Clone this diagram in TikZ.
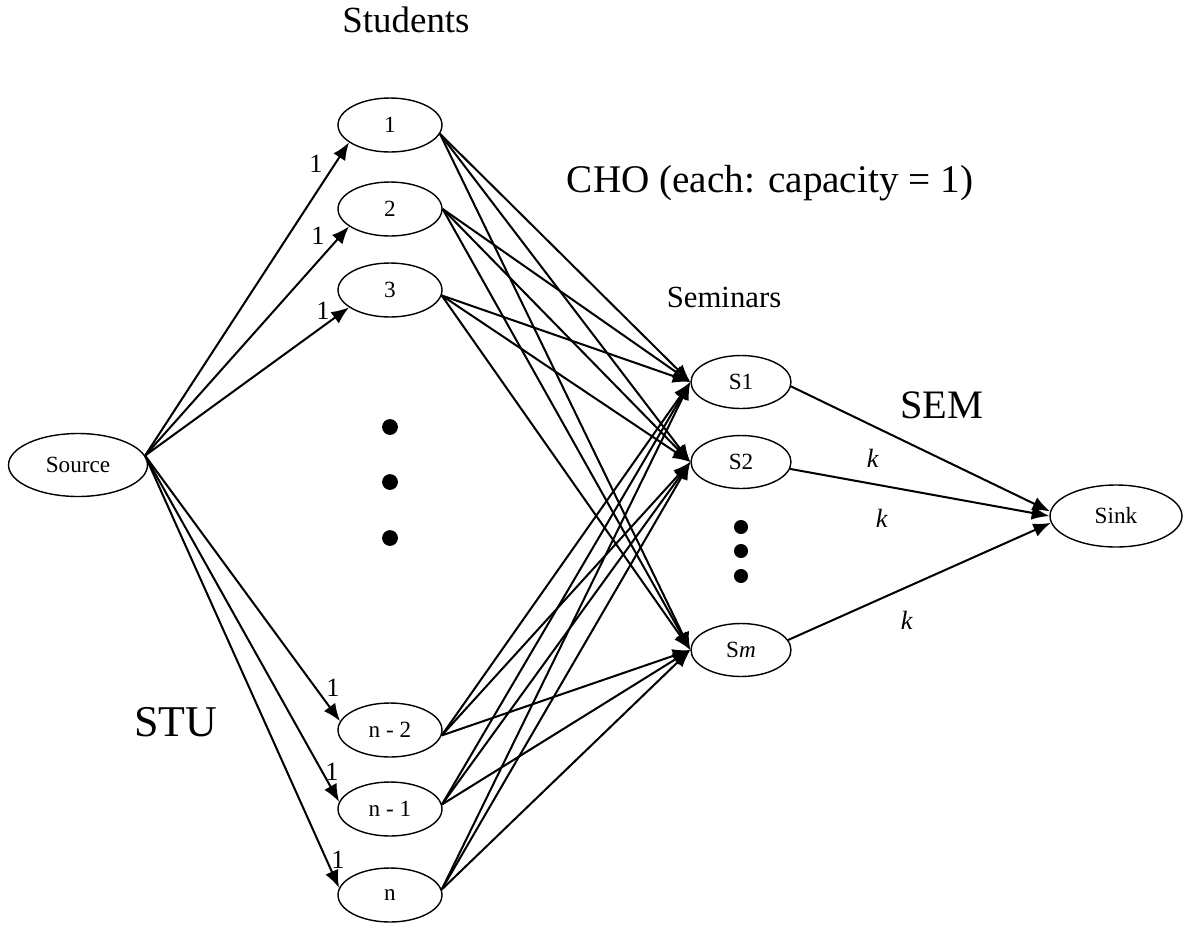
\documentclass[tikz,border=0pt]{standalone}
\usepackage{fontspec}
\setmainfont{Liberation Serif}
\usetikzlibrary{arrows.meta,shapes.geometric}

\tikzset{
  vertex/.style={draw, ellipse, line width=0.8pt, inner sep=0pt,
                 font=\fontsize{13.2}{16}\selectfont},
  student/.style={vertex, minimum width=2.08cm, minimum height=1.08cm},
  seminar/.style={vertex, minimum width=2.0cm, minimum height=1.06cm},
  flow/.style={line width=1.15pt, -{Latex[length=10pt,width=8pt]}},
  flowlabel/.style={font=\fontsize{15}{18}\selectfont},
  title/.style={font=\fontsize{23}{28}\selectfont}
}

\begin{document}
\begin{tikzpicture}[x=0.02cm, y=-0.02cm,
  dot/.style={fill=black, draw=none, circle, minimum size=9pt, inner sep=0pt}]
\useasboundingbox (0,0) rectangle (1201,924);

% source and sink
\node[vertex, minimum width=2.78cm, minimum height=1.26cm] (src) at (78,465) {Source};
\node[vertex, minimum width=2.64cm, minimum height=1.24cm] (snk) at (1116,516) {Sink};

% students
\node[student] (st1) at (390,125) {1};
\node[student] (st2) at (390,209) {2};
\node[student] (st3) at (390,290) {3};
\node[student] (stn2) at (390,730) {n - 2};
\node[student] (stn1) at (390,809) {n - 1};
\node[student] (stn) at (390,895) {n};

% seminars
\node[seminar] (s1) at (741,382) {S1};
\node[seminar] (s2) at (741,462) {S2};
\node[seminar] (sm) at (741,650) {S\textit{m}};

% ellipsis dots
\node[dot] (da) at (390,427) {};
\node[dot] (db) at (390,482) {};
\node[dot] (dc) at (390,538) {};
\node[dot, minimum size=8pt] (dd) at (741,527) {};
\node[dot, minimum size=8pt] (de) at (741,551) {};
\node[dot, minimum size=8pt] (df) at (741,576) {};

% headings
\node[font=\fontsize{21}{25}\selectfont] (hst) at (406,20) {Students};
\node[font=\fontsize{17.5}{21}\selectfont] (hse) at (724,297) {Seminars};
\node[font=\fontsize{22.3}{27}\selectfont] (hcho) at (770,183) {CHO (each: capacity = 1)};
\node[title] (hsem) at (942,405) {SEM};
\node[font=\fontsize{25}{30}\selectfont] (hstu) at (176,722) {STU};

% STU arcs: source to students
\draw[flow] (src.8) -- (st1.203);
\draw[flow] (src.8) -- (st2.203);
\draw[flow] (src.8) -- (st3.203);
\draw[flow] (src.8) -- (stn2.170);
\draw[flow] (src.8) -- (stn1.172);
\draw[flow] (src.8) -- (stn.172);

\node[flowlabel] (l1) at (316,164) {1};
\node[flowlabel] (l2) at (318,236) {1};
\node[flowlabel] (l3) at (323,311) {1};
\node[flowlabel] (l4) at (333,688) {1};
\node[flowlabel] (l5) at (332,772) {1};
\node[flowlabel] (l6) at (338,860) {1};

% CHO arcs: every student to every seminar
\foreach \u/\a in {st1/-10, st2/0, st3/-6, stn2/-6, stn1/5, stn/6}{
  \foreach \v in {s1, s2, sm}{
    \draw[flow] (\u.\a) -- (\v.west);
  }
}

% SEM arcs: seminars to sink
\draw[flow] (s1.-5) -- (snk.176);
\draw[flow] (s2.-8) -- (snk.180);
\draw[flow] (sm.12) -- (snk.186);

\node[flowlabel] (k1) at (873,458) {\textit{k}};
\node[flowlabel] (k2) at (882,518) {\textit{k}};
\node[flowlabel] (k3) at (907,620) {\textit{k}};
\end{tikzpicture}
\end{document}
